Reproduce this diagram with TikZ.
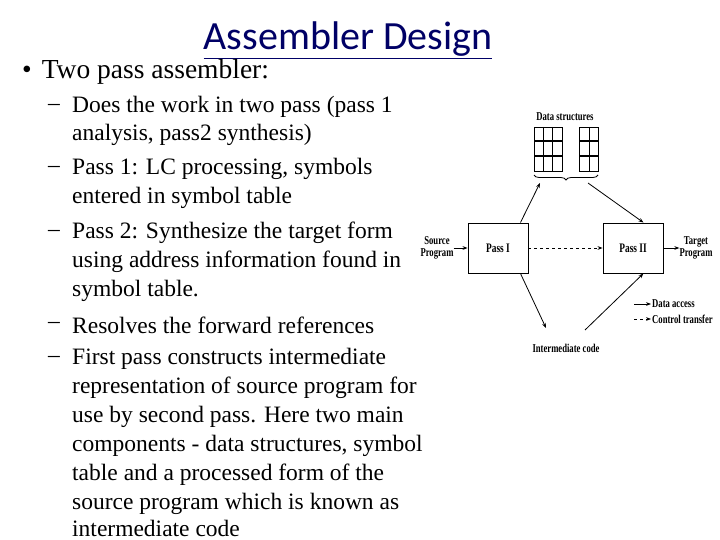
\documentclass[tikz,border=0pt]{standalone}
\usepackage{fontspec}
\usepackage{graphicx}
\setmainfont{Liberation Serif}
\newfontfamily\titlefont{Carlito}
\usetikzlibrary{arrows.meta,decorations.pathreplacing}
\newcommand{\cnd}[1]{\scalebox{0.72}[1]{#1}}
\begin{document}
\begin{tikzpicture}[x=1pt,y=-1pt,
  txt/.style={anchor=west,inner sep=0pt,font=\fontsize{23.5}{24}\selectfont},
  dg/.style={inner sep=0pt,font=\fontsize{12}{12}\selectfont\bfseries,align=center},
  passbox/.style={draw,line width=0.9pt,minimum width=60pt,minimum height=50pt,inner sep=0pt,font=\fontsize{13}{13}\selectfont\bfseries},
  da/.style={-{Stealth[length=5pt]},line width=0.8pt},
  ct/.style={-{Stealth[length=5pt]},line width=0.8pt,dashed}]
\useasboundingbox (0,0) rectangle (720,540);
\node[inner sep=0pt,font=\fontsize{40}{40}\selectfont\titlefont,text=blue!40!black] (title) at (348,40) {\underline{Assembler Design}};
\node[txt,font=\fontsize{27.5}{28}\selectfont] (b0) at (22,72) {•\hspace{10pt}Two pass assembler:};
\foreach \y/\d/\t [count=\i] in {
107/1/{Does the work in two pass (pass 1},
135/0/{analysis, pass2 synthesis)},
169/1/{Pass 1: LC processing, symbols},
198/0/{entered in symbol table},
233/1/{Pass 2: Synthesize the target form},
262/0/{using address information found in},
291/0/{symbol table.},
325/1/{Resolves the forward references},
359/1/{First pass constructs intermediate},
388/0/{representation of source program for},
417/0/{use by second pass. Here two main},
446/0/{components - data structures, symbol},
475/0/{table and a processed form of the},
504/0/{source program which is known as},
528/0/{intermediate code}}{
  \node[txt] (l\i) at (72,\y) {\t};
  \ifnum\d=1 \node[txt] (d\i) at (48,\y) {–};\fi
}
% diagram
\node[passbox] (p1) at (498,248) {\cnd{Pass I}};
\node[passbox] (p2) at (633,248) {\cnd{Pass II}};
\node[dg] (ds) at (565,117) {\cnd{Data structures}};
\foreach \x in {534,579}{
  \pgfmathsetmacro\w{\x==534?28:19}
  \draw[line width=0.7pt] (\x,127) rectangle ++(\w,44);
  \foreach \yy in {141,156} \draw[line width=1.2pt] (\x,\yy) -- ++(\w,0);
}
\foreach \xx in {543,552,589} \draw[line width=0.5pt] (\xx,127) -- (\xx,171);
\draw[decorate,decoration={brace,mirror,amplitude=5pt},line width=0.8pt] (534,175) -- (598,175);
\coordinate (bl) at (540,183);
\coordinate (br) at (588,183);
\coordinate (il) at (546,328);
\coordinate (ir) at (585,330);
\draw[da] (p1.north east) ++(-8,0) -- (bl);
\draw[da] (br) -- ([xshift=-20pt]p2.north east);
\draw[da] ([xshift=-8pt]p1.south east) -- (il);
\draw[da] (ir) -- ([xshift=-20pt]p2.south east);
\node[dg] (src) at (437,248) {\cnd{Source}\\\cnd{Program}};
\node[dg] (tgt) at (696,248) {\cnd{Target}\\\cnd{Program}};
\draw[da] (src.east) -- (p1.west);
\draw[ct] (p1.east) -- (p2.west);
\draw[da] (p2.east) -- (tgt.west);
\node[dg] (ic) at (566,348) {\cnd{Intermediate code}};
\coordinate (a1) at (634,304); \coordinate (a2) at (651,304);
\coordinate (c1) at (634,319); \coordinate (c2) at (651,319);
\draw[da] (a1) -- (a2);
\draw[ct] (c1) -- (c2);
\node[dg,anchor=west] (la) at (652,304) {\cnd{Data access}};
\node[dg,anchor=west] (lc) at (652,319) {\cnd{Control transfer}};
\end{tikzpicture}
\end{document}
